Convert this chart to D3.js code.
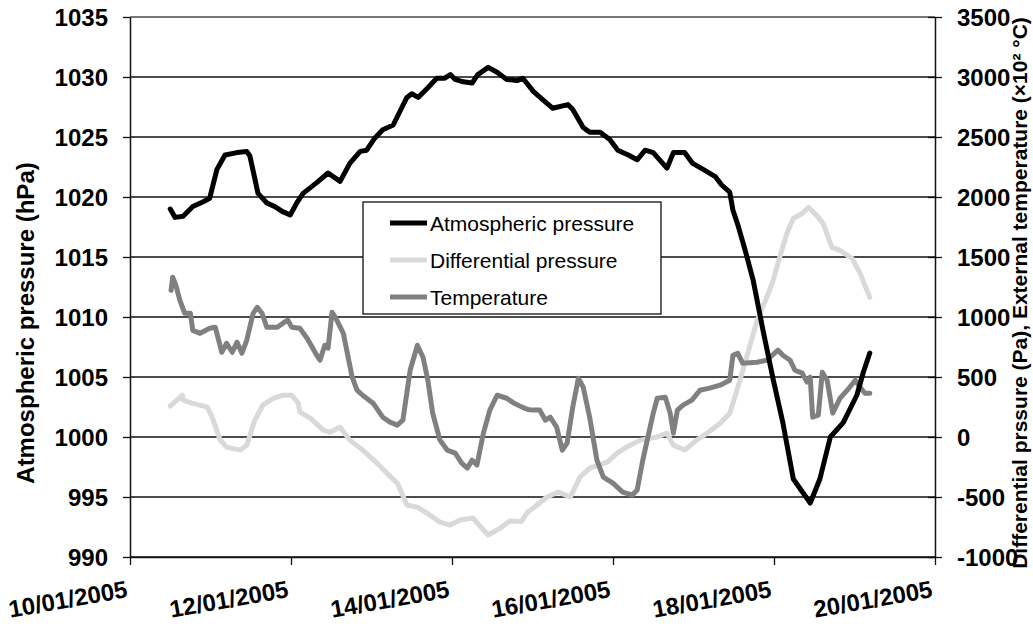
<!DOCTYPE html>
<html>
<head>
<meta charset="utf-8">
<script src="https://cdn.jsdelivr.net/npm/d3@7"></script>
<style>
  body { margin: 0; background: #fff; }
  svg { display: block; font-family: "Liberation Sans", Arial, sans-serif; }
</style>
</head>
<body>
<svg id="chart"></svg>
<script>
// day of January 2005 (fractional) and readings
var pressureDays = [10.50, 10.56, 10.66, 10.78, 10.91, 10.99, 11.08, 11.18, 11.33, 11.45, 11.49, 11.59, 11.70, 11.80, 11.89, 11.99,
    12.08, 12.15, 12.32, 12.46, 12.61, 12.73, 12.86, 12.94, 13.04, 13.14, 13.27, 13.38, 13.44, 13.50, 13.58, 13.70, 13.81, 13.91,
    13.98, 14.04, 14.14, 14.25, 14.32, 14.45, 14.56, 14.68, 14.81, 14.88, 14.94, 15.01, 15.13, 15.25, 15.44, 15.50, 15.63, 15.71,
    15.84, 15.96, 16.06, 16.19, 16.30, 16.40, 16.50, 16.67, 16.75, 16.89, 16.99, 17.12, 17.27, 17.35, 17.45, 17.49, 17.55, 17.64,
    17.74, 17.86, 17.99, 18.11, 18.24, 18.45, 18.57, 18.70, 18.86, 19.03, 19.11, 19.19];
var pressureValues = [1019.0, 1018.3, 1018.4, 1019.2, 1019.6, 1019.9, 1022.3, 1023.5, 1023.7, 1023.8, 1023.4, 1020.3, 1019.5, 1019.2, 1018.8, 1018.5,
    1019.6, 1020.3, 1021.2, 1022.0, 1021.3, 1022.8, 1023.8, 1023.9, 1024.9, 1025.6, 1026.0, 1027.5, 1028.3, 1028.6, 1028.3, 1029.1, 1029.9, 1029.9,
    1030.2, 1029.8, 1029.6, 1029.5, 1030.2, 1030.8, 1030.4, 1029.8, 1029.7, 1029.9, 1029.4, 1028.8, 1028.1, 1027.4, 1027.7, 1027.3, 1025.8, 1025.4,
    1025.4, 1024.8, 1023.9, 1023.5, 1023.1, 1023.9, 1023.7, 1022.4, 1023.7, 1023.7, 1022.8, 1022.3, 1021.7, 1021.0, 1020.4, 1018.9, 1017.7, 1015.6,
    1013.1, 1009.0, 1004.8, 1001.2, 996.5, 994.5, 996.5, 1000.0, 1001.2, 1003.5, 1005.4, 1007.0];

var diffDays = [10.50, 10.65, 10.66, 10.77, 10.96, 11.02, 11.12, 11.20, 11.37, 11.45, 11.55, 11.65, 11.78, 11.90, 12.01, 12.09,
    12.11, 12.24, 12.40, 12.48, 12.61, 12.73, 12.89, 13.07, 13.19, 13.32, 13.44, 13.57, 13.69, 13.85, 13.98, 14.10, 14.26, 14.37,
    14.45, 14.60, 14.72, 14.86, 14.94, 15.01, 15.18, 15.32, 15.47, 15.59, 15.71, 15.93, 16.05, 16.17, 16.34, 16.55, 16.67, 16.75,
    16.89, 17.04, 17.17, 17.33, 17.45, 17.54, 17.66, 17.79, 17.91, 17.99, 18.07, 18.16, 18.24, 18.35, 18.43, 18.53, 18.61, 18.72,
    18.82, 18.97, 19.07, 19.19];
var diffValues = [257, 348, 307, 282, 249, 165, -26, -84, -109, -68, 140, 265, 323, 348, 348, 282,
    207, 157, 57, 40, 82, -26, -109, -218, -301, -384, -567, -584, -634, -709, -734, -692, -675, -759,
    -817, -759, -700, -705, -625, -592, -500, -459, -500, -334, -259, -209, -134, -84, -26, 0, 32, -68,
    -109, -26, 32, 115, 198, 390, 665, 973, 1164, 1306, 1497, 1697, 1822, 1863, 1913, 1847, 1780, 1580,
    1555, 1489, 1364, 1164];

var tempDays = [10.51, 10.53, 10.57, 10.62, 10.68, 10.75, 10.78, 10.87, 10.99, 11.06, 11.14, 11.20, 11.27, 11.33, 11.39, 11.45,
    11.53, 11.58, 11.64, 11.70, 11.83, 11.90, 11.96, 12.01, 12.11, 12.20, 12.32, 12.36, 12.42, 12.46, 12.51, 12.55, 12.65, 12.76,
    12.82, 12.89, 13.02, 13.14, 13.23, 13.32, 13.39, 13.48, 13.57, 13.64, 13.70, 13.76, 13.85, 13.94, 14.04, 14.12, 14.19, 14.25,
    14.31, 14.39, 14.47, 14.56, 14.68, 14.76, 14.87, 14.94, 15.01, 15.09, 15.16, 15.22, 15.30, 15.37, 15.43, 15.50, 15.57, 15.63,
    15.71, 15.80, 15.88, 16.00, 16.12, 16.24, 16.30, 16.37, 16.50, 16.55, 16.65, 16.71, 16.75, 16.80, 16.87, 16.98, 17.08, 17.20,
    17.33, 17.45, 17.49, 17.55, 17.61, 17.79, 17.91, 18.05, 18.11, 18.20, 18.26, 18.35, 18.41, 18.45, 18.48, 18.55, 18.60, 18.66,
    18.73, 18.82, 18.91, 19.01, 19.07, 19.13, 19.19];
var tempValues = [1222, 1331, 1264, 1139, 1031, 1031, 889, 864, 906, 914, 706, 781, 706, 790, 698, 806,
    1031, 1081, 1031, 914, 914, 948, 973, 914, 906, 823, 681, 640, 765, 740, 1039, 998, 864, 498,
    390, 348, 282, 165, 124, 99, 140, 556, 765, 665, 473, 199, -26, -109, -134, -218, -259, -193,
    -234, 32, 224, 348, 323, 286, 249, 230, 224, 224, 140, 165, 82, -109, -51, 249, 490, 415,
    165, -193, -334, -384, -459, -484, -442, -193, 199, 323, 332, 199, 32, 224, 265, 307, 390, 407,
    432, 473, 681, 698, 615, 623, 640, 723, 681, 640, 556, 532, 457, 498, 165, 182, 540, 473,
    199, 323, 390, 473, 415, 365, 365];

var leftTicks = [990, 995, 1000, 1005, 1010, 1015, 1020, 1025, 1030, 1035];
var rightTicks = [-1000, -500, 0, 500, 1000, 1500, 2000, 2500, 3000, 3500];
var dateTicks = [10, 12, 14, 16, 18, 20];
var seriesNames = ["Atmospheric pressure", "Differential pressure", "Temperature"];
var seriesColors = ["#000000", "#d9d9d9", "#808080"];

var W = 1033, H = 626;
var mLeft = 130, mRight = 935, mTop = 17, mBottom = 557;

var svg = d3.select("#chart").attr("width", W).attr("height", H);

function toDate(day) {
    return new Date(Date.UTC(2005, 0, 1) + (day - 1) * 864e5);
}
function plain(d) { return String(d); }

var x = d3.scaleUtc()
    .domain([toDate(10), toDate(20)])
    .range([mLeft, mRight]);
var yLeft = d3.scaleLinear().domain([990, 1035]).range([mBottom, mTop]);
var yRight = d3.scaleLinear().domain([-1000, 3500]).range([mBottom, mTop]);

// grid
svg.append("g").selectAll("line")
    .data(leftTicks)
    .enter().append("line")
    .attr("x1", mLeft).attr("x2", mRight)
    .attr("y1", function(d){ return yLeft(d); })
    .attr("y2", function(d){ return yLeft(d); })
    .attr("stroke", function(d){ return d == 1035 ? "#777" : "#111"; })
    .attr("stroke-width", function(d){ return d == 1035 ? 2 : 1.3; });

// axes
var gl = svg.append("g")
    .attr("transform", "translate(" + mLeft + ",0)")
    .call(d3.axisLeft(yLeft).tickValues(leftTicks).tickFormat(plain)
        .tickSize(7).tickSizeOuter(0).tickPadding(15));
var gr = svg.append("g")
    .attr("transform", "translate(" + mRight + ",0)")
    .call(d3.axisRight(yRight).tickValues(rightTicks).tickFormat(plain)
        .tickSize(7).tickSizeOuter(0).tickPadding(15));
gr.selectAll(".tick line").attr("x1", -7);
var gx = svg.append("g")
    .attr("transform", "translate(0," + mBottom + ")")
    .call(d3.axisBottom(x).tickValues(dateTicks.map(toDate)).tickSize(8).tickSizeOuter(0)
        .tickFormat(d3.utcFormat("%d/%m/%Y")));
gx.selectAll(".tick text")
    .attr("y", 0).attr("dy", null)
    .attr("text-anchor", "end")
    .attr("transform", "translate(-2,40) rotate(-10)");

[gl, gr, gx].forEach(function(g){
    g.selectAll(".domain").attr("stroke", "#111").attr("stroke-width", 1.5);
    g.selectAll(".tick line").attr("stroke", "#111").attr("stroke-width", 1.3);
    g.selectAll(".tick text")
        .attr("font-family", "Liberation Sans, Arial, sans-serif")
        .attr("font-size", 24).attr("font-weight", "bold").attr("fill", "#000");
});
gr.selectAll(".tick text").attr("dy", "0.36em");
gl.selectAll(".tick text").attr("dy", "0.36em");

// lines
var lineLeft = d3.line()
    .x(function(d){ return x(toDate(d[0])); })
    .y(function(d){ return yLeft(d[1]); });
var lineRight = d3.line()
    .x(function(d){ return x(toDate(d[0])); })
    .y(function(d){ return yRight(d[1]); });

function pairs(days, vals) {
    return days.map(function(d, i){ return [d, vals[i]]; });
}

svg.append("path")
    .datum(pairs(diffDays, diffValues))
    .attr("d", lineRight)
    .attr("fill", "none").attr("stroke", seriesColors[1])
    .attr("stroke-width", 5).attr("stroke-linejoin", "round").attr("stroke-linecap", "round");
svg.append("path")
    .datum(pairs(tempDays, tempValues))
    .attr("d", lineRight)
    .attr("fill", "none").attr("stroke", seriesColors[2])
    .attr("stroke-width", 5).attr("stroke-linejoin", "round").attr("stroke-linecap", "round");
svg.append("path")
    .datum(pairs(pressureDays, pressureValues))
    .attr("d", lineLeft)
    .attr("fill", "none").attr("stroke", seriesColors[0])
    .attr("stroke-width", 5).attr("stroke-linejoin", "round").attr("stroke-linecap", "round");

// legend
var lg = svg.append("g");
lg.append("rect")
    .attr("x", 363).attr("y", 202).attr("width", 298).attr("height", 112)
    .attr("fill", "#fff").attr("stroke", "#111").attr("stroke-width", 1.3);
var item = lg.selectAll(".item")
    .data(seriesNames)
    .enter().append("g")
    .attr("transform", function(d, i){ return "translate(0," + (223 + i * 37) + ")"; });
item.append("line")
    .attr("x1", 390).attr("x2", 427)
    .attr("stroke", function(d, i){ return seriesColors[i]; })
    .attr("stroke-width", 5);
item.append("text")
    .attr("x", 430).attr("dy", "0.36em")
    .attr("font-size", 21)
    .text(function(d){ return d; });

// axis titles
svg.append("text")
    .attr("transform", "translate(34,323) rotate(-90)")
    .attr("text-anchor", "middle")
    .attr("font-size", 24).attr("font-weight", "bold")
    .text("Atmospheric pressure (hPa)");
svg.append("text")
    .attr("transform", "translate(1027,293) rotate(-90)")
    .attr("text-anchor", "middle")
    .attr("font-size", 21).attr("font-weight", "bold")
    .text("Differential prssure (Pa), External temperature (\u00d710\u00b2 \u00b0C)");
</script>
</body>
</html>
